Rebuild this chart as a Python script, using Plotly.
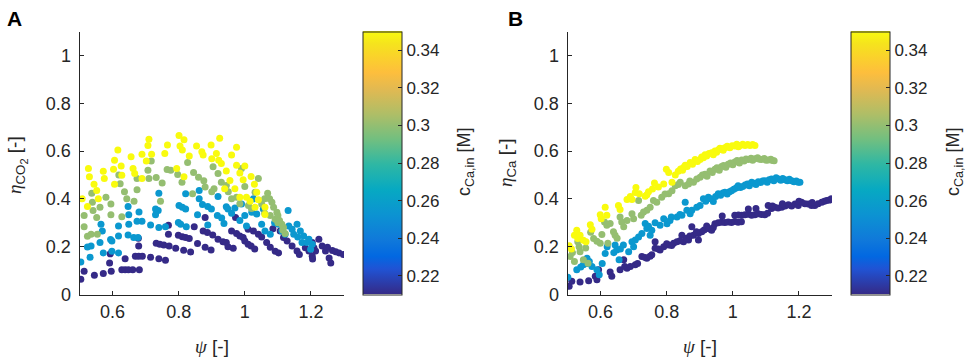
import plotly.graph_objects as go

# ---------------- data ----------------
c_levels = [0.21, 0.255, 0.30, 0.35]   # c_Ca,in [M] of the four point groups

# Panel A : eta_CO2 vs psi
psiA_1 = [0.504,0.514,0.545,0.572,0.596,0.628,0.638,0.648,0.661,0.681,
          0.591,0.593,0.638,0.669,0.679,0.690,0.715,0.740,0.760,
          0.678,0.679,0.732,0.743,0.755,0.771,0.791,0.815,0.836,
          0.769,0.769,0.799,0.811,0.821,0.832,0.857,0.880,0.898,
          0.880,0.874,0.887,0.903,0.919,0.934,0.944,0.949,0.965,
          0.972,0.960,0.975,0.985,0.995,1.000,1.010,1.019,1.030,
          1.010,1.026,1.041,1.051,1.066,1.077,1.092,1.102,
          1.085,1.107,1.117,1.128,1.143,1.158,1.165,
          1.183,1.194,1.204,1.204,1.209,1.214,1.205,
          1.224,1.234,1.244,1.255,1.260,
          1.250,1.265,1.275,1.285,1.298,
          0.847]
etaA_1 = [0.064,0.097,0.080,0.088,0.097,0.104,0.104,0.104,0.104,0.104,
          0.132,0.170,0.150,0.160,0.160,0.160,0.156,0.150,0.143,
          0.235,0.203,0.214,0.210,0.207,0.203,0.193,0.185,0.178,
          0.290,0.252,0.248,0.242,0.238,0.234,0.213,0.198,0.186,
          0.322,0.266,0.259,0.249,0.231,0.221,0.217,0.200,0.193,
          0.322,0.266,0.255,0.245,0.238,0.224,0.210,0.203,0.190,
          0.273,0.266,0.252,0.241,0.217,0.198,0.181,0.174,
          0.275,0.266,0.238,0.224,0.203,0.182,0.167,
          0.196,0.182,0.160,0.217,0.196,0.182,0.148,
          0.231,0.203,0.182,0.153,0.132,
          0.198,0.184,0.179,0.174,0.167,
          0.283]

psiA_2 = [0.504,0.532,0.535,0.524,0.562,0.569,0.565,0.572,0.598,0.618,
          0.598,0.618,0.618,0.647,0.664,0.677,0.649,0.649,0.647,0.674,
          0.689,0.715,0.730,0.738,0.730,0.740,0.740,0.760,0.799,0.801,
          0.811,0.821,0.806,0.823,0.821,0.862,0.862,0.872,0.888,0.857,
          0.888,
          0.899,0.919,0.917,0.937,0.944,0.949,0.970,0.990,1.005,1.021,
          1.036,1.051,1.056,1.061,1.077,1.102,1.112,1.122,1.131,1.133,
          1.143,1.148,1.158,1.168,1.173,1.178,1.188,1.194,1.199,1.204,
          1.026,
          0.930,0.960,0.985,1.000,1.090,1.160,0.594,0.680]
etaA_2 = [0.136,0.156,0.203,0.199,0.217,0.266,0.294,0.174,0.181,0.174,
          0.224,0.245,0.287,0.249,0.238,0.238,0.294,0.334,0.368,0.306,
          0.306,0.291,0.358,0.351,0.334,0.424,0.280,0.283,0.301,0.372,
          0.365,0.358,0.294,0.283,0.421,0.435,0.400,0.376,0.368,0.334,
          0.291,
          0.358,0.410,0.330,0.297,0.367,0.358,0.362,0.379,0.287,0.344,
          0.337,0.294,0.358,0.266,0.252,0.294,0.266,0.252,0.351,0.287,
          0.273,0.252,0.294,0.266,0.217,0.245,0.217,0.231,0.189,0.210,
          0.400,
          0.320,0.340,0.310,0.330,0.300,0.240,0.230,0.345]

psiA_3 = [0.514,0.514,0.524,0.537,0.539,0.541,0.535,0.554,0.552,0.562,
          0.580,0.595,0.595,0.619,0.623,0.628,0.636,0.643,0.674,0.674,
          0.707,0.710,0.717,0.732,0.745,0.750,0.765,0.776,0.797,0.827,
          0.842,0.876,0.904,0.919,0.907,0.929,0.944,0.975,0.990,1.000,
          1.011,1.041,1.031,1.069,1.082,1.087,1.097,1.112,1.117,1.122,
          1.077,1.092,1.051,0.845,0.860,0.880,0.900,0.950,0.960,0.985,
          1.020,1.060,1.100,0.810,0.665,
          1.060,1.075,1.100,1.105,1.115]
etaA_3 = [0.330,0.283,0.244,0.424,0.386,0.351,0.252,0.252,0.322,0.365,
          0.407,0.379,0.334,0.500,0.463,0.325,0.430,0.400,0.485,0.438,
          0.520,0.485,0.558,0.489,0.390,0.466,0.523,0.520,0.502,0.552,
          0.421,0.476,0.534,0.506,0.442,0.470,0.456,0.407,0.527,0.452,
          0.372,0.485,0.428,0.424,0.386,0.365,0.344,0.294,0.280,0.255,
          0.330,0.315,0.379,0.510,0.490,0.450,0.430,0.430,0.400,0.380,
          0.360,0.340,0.300,0.470,0.390,
          0.400,0.400,0.330,0.310,0.270]

psiA_4 = [0.801,0.710,0.816,0.707,0.766,0.804,0.854,0.898,0.616,0.811,
          0.870,0.689,0.718,0.758,0.656,0.832,0.874,0.606,0.702,0.626,
          0.527,0.603,0.662,0.572,0.794,0.530,0.628,0.667,0.689,0.816,
          0.544,0.606,0.552,0.508,0.557,0.524,0.575,
          0.924,0.975,0.914,0.960,0.921,0.929,0.975,1.000,0.944,0.985,
          1.019,0.955,0.995,1.029,0.970,0.939,1.036,0.985,1.005,1.016,
          1.041,1.031,1.061,1.061,0.900]
etaA_4 = [0.665,0.649,0.647,0.623,0.625,0.621,0.621,0.625,0.604,0.604,
          0.597,0.587,0.587,0.590,0.576,0.579,0.583,0.562,0.558,0.537,
          0.527,0.524,0.527,0.515,0.527,0.492,0.499,0.506,0.485,0.492,
          0.461,0.461,0.435,0.400,0.400,0.368,0.485,
          0.654,0.616,0.590,0.583,0.562,0.548,0.541,0.537,0.517,0.508,
          0.494,0.477,0.480,0.461,0.442,0.442,0.428,0.407,0.407,0.390,
          0.396,0.365,0.365,0.335,0.568]

# Panel B : eta_Ca vs psi
psiB_1 = [0.505,0.513,0.538,0.564,0.584,0.589,0.594,0.629,0.634,0.659,
          0.670,0.673,0.680,0.690,0.705,0.725,0.740,0.755,0.765,0.765,
          0.780,0.791,0.806,0.821,0.831,0.846,0.851,0.866,0.876,0.881,0.896,
          0.896,0.906,0.913,0.921,0.928,0.936,0.941,0.946,0.956,0.966,
          0.968,0.976,0.986,0.996,1.006,1.016,1.026,1.006,1.017,1.027,
          1.037,1.047,1.057,1.067,1.077,1.087,1.097,1.105,1.047,1.070,
          1.107,1.117,1.127,1.137,1.148,1.158,1.168,1.178,1.188,1.198,
          1.208,1.218,1.228,1.238,1.248,1.258,1.269,1.277,1.284,1.292,1.298,
          1.120,1.150,1.200,1.240,
          0.775,0.800,0.815,0.840,0.860,0.870,0.890,0.735,0.750,0.712]
etaB_1 = [0.034,0.055,0.052,0.058,0.076,0.062,0.103,0.094,0.076,0.103,
          0.145,0.117,0.110,0.117,0.124,0.159,0.152,0.166,0.221,0.193,
          0.186,0.200,0.207,0.214,0.221,0.248,0.221,0.228,0.283,0.248,0.255,
          0.228,0.262,0.270,0.287,0.275,0.269,0.280,0.296,0.300,0.302,
          0.328,0.301,0.303,0.301,0.305,0.302,0.304,0.331,0.333,0.331,
          0.334,0.336,0.331,0.334,0.338,0.335,0.334,0.340,0.358,0.360,
          0.372,0.360,0.365,0.362,0.365,0.370,0.375,0.370,0.379,0.372,
          0.386,0.380,0.379,0.372,0.372,0.380,0.386,0.390,0.393,0.395,0.400,
          0.370,0.380,0.390,0.385,
          0.190,0.212,0.205,0.225,0.235,0.245,0.262,0.155,0.160,0.130]

psiB_2 = [0.501,0.528,0.548,0.559,0.566,0.574,0.589,0.596,0.614,0.644,
          0.649,0.656,0.669,0.685,0.695,0.705,0.725,0.735,0.740,0.750,
          0.755,0.780,0.791,0.801,0.814,0.831,0.846,0.856,0.861,0.871,
          0.876,0.891,0.901,
          0.911,0.918,0.926,0.933,0.941,0.948,0.956,0.963,0.970,0.976,
          0.983,0.990,0.996,1.003,1.010,1.016,1.023,1.030,1.037,1.044,
          1.050,1.057,1.064,1.070,1.077,1.084,1.090,1.097,1.104,1.110,
          1.117,1.124,1.131,1.138,1.145,1.151,1.158,1.165,1.171,1.178,
          1.185,1.192,1.198,1.203,
          0.540,0.560,0.605,0.620,0.640,0.660,0.700,0.715,0.745,0.765,0.810,0.840]
etaB_2 = [0.072,0.103,0.124,0.152,0.138,0.117,0.103,0.083,0.172,0.207,
          0.186,0.145,0.207,0.179,0.221,0.228,0.255,0.297,0.276,0.248,
          0.269,0.290,0.317,0.296,0.324,0.324,0.331,0.386,0.352,0.338,
          0.352,0.365,0.372,
          0.400,0.390,0.407,0.400,0.389,0.410,0.421,0.415,0.425,0.428,
          0.420,0.430,0.434,0.440,0.445,0.455,0.448,0.452,0.458,0.462,
          0.455,0.469,0.465,0.460,0.472,0.468,0.475,0.476,0.470,0.480,
          0.483,0.476,0.488,0.483,0.478,0.485,0.480,0.476,0.482,0.476,
          0.472,0.475,0.470,0.469,
          0.115,0.130,0.130,0.200,0.175,0.190,0.200,0.240,0.285,0.300,0.310,0.335]

psiB_3 = [0.508,0.521,0.531,0.535,0.538,0.548,0.562,0.579,0.589,0.599,
          0.604,0.612,0.619,0.622,0.629,0.639,0.644,0.659,0.664,0.670,
          0.695,0.700,0.715,0.723,0.740,0.750,0.760,0.770,0.785,0.806,
          0.816,0.826,0.841,0.856,0.866,0.881,0.891,0.901,0.795,0.835,0.870,
          0.908,0.916,0.922,0.931,0.938,0.946,0.952,0.959,0.966,0.972,
          0.979,0.986,0.993,1.000,1.006,1.013,1.020,1.027,1.034,1.040,
          1.047,1.055,1.060,1.067,1.075,1.081,1.087,1.095,1.101,1.107,
          1.115,1.120,1.125,
          0.515,0.555,0.570,0.680,0.730,0.650]
etaB_3 = [0.159,0.138,0.221,0.200,0.179,0.145,0.131,0.234,0.223,0.214,
          0.251,0.303,0.290,0.214,0.297,0.262,0.248,0.324,0.303,0.283,
          0.338,0.317,0.393,0.331,0.352,0.365,0.393,0.386,0.407,0.421,
          0.434,0.455,0.469,0.455,0.462,0.469,0.483,0.490,0.420,0.460,0.475,
          0.500,0.503,0.495,0.517,0.510,0.524,0.530,0.520,0.535,0.540,
          0.532,0.545,0.550,0.543,0.554,0.560,0.550,0.563,0.558,0.567,
          0.565,0.570,0.562,0.568,0.572,0.566,0.565,0.569,0.562,0.563,
          0.566,0.560,0.559,
          0.175,0.195,0.260,0.310,0.345,0.235]

psiB_4 = [0.505,0.521,0.528,0.531,0.538,0.548,0.556,0.569,0.574,0.599,
          0.602,0.614,0.619,0.654,0.659,0.680,0.695,0.705,0.707,0.717,
          0.735,0.740,0.757,0.763,0.791,0.799,0.806,0.816,0.851,0.856,
          0.871,0.886,0.901,0.512,0.775,0.745,0.690,
          0.826,0.835,0.842,0.848,0.862,0.878,0.893,0.906,0.911,0.916,
          0.921,0.928,0.936,0.941,0.946,0.951,0.956,0.961,0.966,0.971,
          0.976,0.983,0.991,0.998,1.006,1.012,1.017,1.022,1.030,1.037,
          1.045,1.052,1.060,1.067]
etaB_4 = [0.204,0.248,0.269,0.234,0.248,0.227,0.221,0.292,0.273,0.334,
          0.317,0.365,0.331,0.372,0.355,0.397,0.397,0.427,0.448,0.421,
          0.411,0.417,0.441,0.466,0.462,0.524,0.510,0.469,0.531,0.541,
          0.552,0.565,0.565,0.190,0.450,0.430,0.410,
          0.500,0.515,0.525,0.520,0.535,0.545,0.556,0.575,0.572,0.585,
          0.579,0.590,0.593,0.585,0.600,0.595,0.604,0.612,0.610,0.603,
          0.614,0.620,0.614,0.622,0.621,0.628,0.618,0.623,0.628,0.623,
          0.627,0.623,0.627,0.623]

x_ticks = [0.6, 0.8, 1.0, 1.2]
x_ticktext = ["0.6", "0.8", "1", "1.2"]
y_ticks = [0, 0.2, 0.4, 0.6, 0.8, 1.0]
y_ticktext = ["0", "0.2", "0.4", "0.6", "0.8", "1"]
cb_ticks = [0.22, 0.24, 0.26, 0.28, 0.30, 0.32, 0.34]
cb_ticktext = ["0.22", "0.24", "0.26", "0.28", "0.3", "0.32", "0.34"]

# ---------------- style ----------------
parula = [
    [0/63, "rgb(53,42,135)"], [6/63, "rgb(32,83,212)"], [9/63, "rgb(2,104,225)"],
    [13/63, "rgb(16,121,218)"], [19/63, "rgb(12,147,210)"], [25/63, "rgb(7,169,194)"],
    [31/63, "rgb(46,183,164)"], [37/63, "rgb(113,191,128)"], [43/63, "rgb(174,190,103)"],
    [49/63, "rgb(225,185,82)"], [53/63, "rgb(253,190,61)"], [57/63, "rgb(250,211,42)"],
    [60/63, "rgb(245,228,29)"], [63/63, "rgb(249,251,14)"],
]
AX = "#262626"
FONT = "Liberation Sans, Arial, sans-serif"
MS = 7
TF = 18

W, H = 969, 357
def px(sx):
    return sx / W
def py(sy):
    return 1 - sy / H

fig = go.Figure()

panelA = [(psiA_1, etaA_1), (psiA_2, etaA_2), (psiA_3, etaA_3), (psiA_4, etaA_4)]
panelB = [(psiB_1, etaB_1), (psiB_2, etaB_2), (psiB_3, etaB_3), (psiB_4, etaB_4)]

for (xs, ys), c in zip(panelA, c_levels):
    fig.add_trace(go.Scatter(x=xs, y=ys, mode="markers", xaxis="x", yaxis="y",
                             marker=dict(size=MS, color=[c] * len(xs), coloraxis="coloraxis",
                                         line=dict(width=0)),
                             showlegend=False, hoverinfo="x+y"))
for (xs, ys), c in zip(panelB, c_levels):
    fig.add_trace(go.Scatter(x=xs, y=ys, mode="markers", xaxis="x2", yaxis="y2",
                             marker=dict(size=MS, color=[c] * len(xs), coloraxis="coloraxis2",
                                         line=dict(width=0)),
                             showlegend=False, hoverinfo="x+y"))

TOP, BOT = 31.5, 294.5
yd = [py(BOT), py(TOP)]

def xaxis_cfg(domain, anchor):
    return dict(domain=domain, anchor=anchor, range=[0.5, 1.3], tickvals=x_ticks,
                ticktext=x_ticktext, showline=True, linecolor=AX, linewidth=1,
                ticks="inside", ticklen=4, tickcolor=AX, showgrid=False, zeroline=False,
                ticklabelstandoff=1, automargin=False,
                tickfont=dict(family=FONT, size=TF, color=AX))

def yaxis_cfg(anchor):
    return dict(domain=yd, anchor=anchor, range=[0, 1.1], tickvals=y_ticks,
                ticktext=y_ticktext, showline=True, linecolor=AX, linewidth=1,
                ticks="inside", ticklen=4, tickcolor=AX, showgrid=False, zeroline=False,
                ticklabelstandoff=4, automargin=False,
                tickfont=dict(family=FONT, size=TF, color=AX))

def cbar(sx):
    return dict(x=px(sx), xanchor="left", y=(yd[0] + yd[1]) / 2, yanchor="middle",
                len=yd[1] - yd[0], lenmode="fraction", thickness=39, thicknessmode="pixels",
                xpad=0, ypad=0, outlinewidth=1, outlinecolor=AX,
                tickvals=cb_ticks, ticktext=cb_ticktext, ticks="inside", ticklen=4,
                tickcolor=AX, tickfont=dict(family=FONT, size=17, color=AX))

ETA = '<span style="font-family:Liberation Serif"><i>η</i></span>'
PSI = '<span style="font-family:Liberation Serif"><i>ψ</i></span> [-]'
CB_TITLE = "c<sub>Ca,in</sub> [M]"

def note(text, sx, sy, size=19, angle=0, xa="center", ya="middle", color=AX):
    return dict(text=text, x=px(sx), y=py(sy), xref="paper", yref="paper",
                xanchor=xa, yanchor=ya, textangle=angle, showarrow=False,
                font=dict(family=FONT, size=size, color=color))

fig.update_layout(
    width=W, height=H, margin=dict(l=0, r=0, t=0, b=0, autoexpand=False),
    paper_bgcolor="white", plot_bgcolor="white",
    font=dict(family=FONT, color=AX),
    xaxis=xaxis_cfg([px(79.5), px(344)], "y"),
    yaxis=yaxis_cfg("x"),
    xaxis2=xaxis_cfg([px(567.5), px(832)], "y2"),
    yaxis2=yaxis_cfg("x2"),
    coloraxis=dict(colorscale=parula, cmin=0.21, cmax=0.35, colorbar=cbar(362.5)),
    coloraxis2=dict(colorscale=parula, cmin=0.21, cmax=0.35, colorbar=cbar(851)),
    annotations=[
        note("<b>A</b>", 5, 5, size=21, xa="left", ya="top", color="black"),
        note("<b>B</b>", 506, 5, size=21, xa="left", ya="top", color="black"),
        note(ETA + '<sub>CO<sub><span style="font-size:11px">2</span></sub></sub> [-]',
             17, 165, angle=-90),
        note(ETA + '<sub>Ca</sub> [-]', 507, 163, angle=-90),
        note(PSI, 212, 346),
        note(PSI, 700, 346),
        note(CB_TITLE, 466, 162, size=18, angle=-90),
        note(CB_TITLE, 955, 162, size=18, angle=-90),
    ],
)

fig.write_html("out.html", config={"displayModeBar": False},
               post_script="document.body.style.margin='0';document.body.style.overflow='hidden';")
